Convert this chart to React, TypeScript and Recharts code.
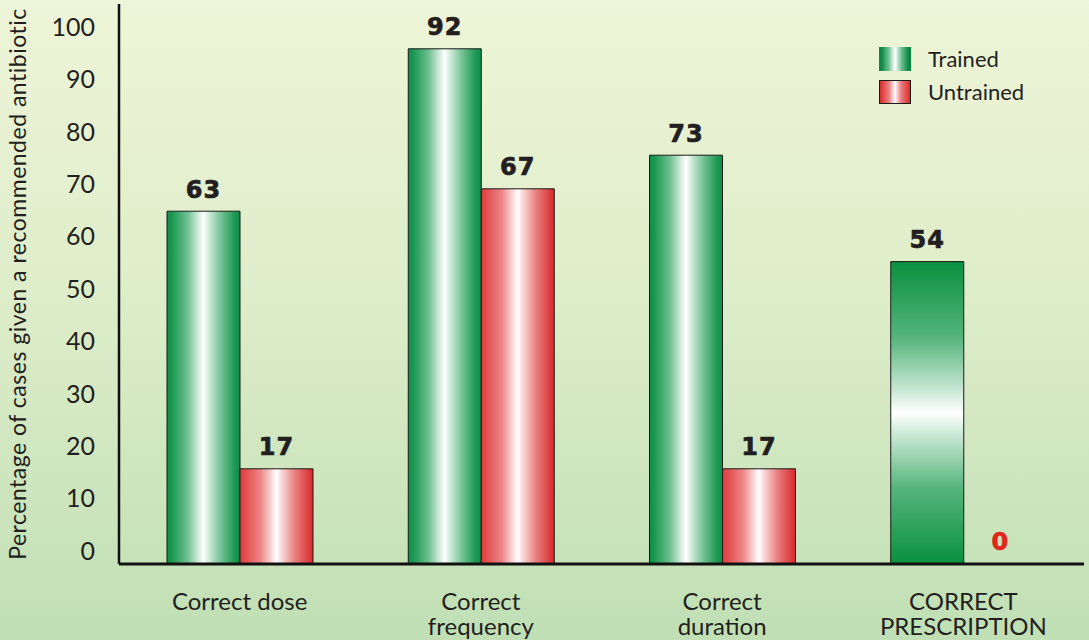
import React from 'react';
import { BarChart, Bar, XAxis, YAxis, Legend, LabelList, Cell } from 'recharts';

const categories = ['Correct dose', 'Correct\nfrequency', 'Correct\nduration', 'CORRECT\nPRESCRIPTION'];
const trainedValues = [63, 92, 73, 54];
const untrainedValues = [17, 67, 17, 0];
const yTickLabels = [0, 10, 20, 30, 40, 50, 60, 70, 80, 90, 100];
const seriesNames = ['Trained', 'Untrained'];
const yTitle = 'Percentage of cases given a recommended antibiotic';

const data = categories.map((name, i) => ({
  name,
  trained: trainedValues[i],
  untrained: untrainedValues[i],
}));

const FONT = 'Lato, "Open Sans", sans-serif';
const TEXT = '#231f20';

const CategoryTick = (props: any) => {
  const { x, y, payload } = props;
  const lines = String(payload.value).split('\n');
  return (
    <g>
      {lines.map((l: string, i: number) => (
        <text
          key={i}
          x={x}
          y={y + 46 + i * 25}
          textAnchor="middle"
          fontFamily={FONT}
          fontSize={24}
          fill={TEXT}
        >
          {l}
        </text>
      ))}
    </g>
  );
};

const ValueLabel = (props: any) => {
  const { x, y, width, value } = props;
  const color = Number(value) === 0 ? '#e2261c' : TEXT;
  return (
    <text
      x={x + width / 2}
      y={y - 13.5}
      textAnchor="middle"
      fontFamily='"DejaVu Sans", sans-serif'
      fontWeight="bold"
      fontSize={24}
      letterSpacing={1}
      fill={color}
      stroke={color}
      strokeWidth={0.7}
    >
      {value}
    </text>
  );
};

const YTitle = (props: any) => {
  const vb = props.viewBox || { x: 0, y: 4, width: 119, height: 560 };
  const cx = 26;
  const cy = vb.y + vb.height / 2;
  return (
    <text
      x={cx}
      y={cy}
      transform={`rotate(-90 ${cx} ${cy})`}
      textAnchor="middle"
      fontFamily={FONT}
      fontSize={23}
      letterSpacing={0.5}
      fill={TEXT}
    >
      {yTitle}
    </text>
  );
};

const greenH = 'linear-gradient(to right, #0a8a44 0%, #0a8a44 8%, #6fbf90 30%, #d5eee0 44%, #ffffff 50%, #d5eee0 56%, #6fbf90 70%, #0a8a44 92%, #0a8a44 100%)';
const redH = 'linear-gradient(to right, #dd2a2a 0%, #ea8080 30%, #f8d6d6 44%, #ffffff 50%, #f8d6d6 56%, #ea8080 70%, #dd2a2a 100%)';

const renderLegend = () => (
  <div style={{ fontFamily: FONT, fontSize: 22, color: TEXT, lineHeight: '24px' }}>
    {seriesNames.map((n, i) => (
      <div key={n} style={{ display: 'flex', alignItems: 'center', height: 24, marginBottom: 9 }}>
        <span
          style={{
            display: 'inline-block',
            width: i === 0 ? 32 : 30,
            height: i === 0 ? 24 : 22,
            background: i === 0 ? greenH : redH,
            border: i === 0 ? 'none' : '1px solid #1a1a1a',
          }}
        />
        <span style={{ marginLeft: 17 }}>{n}</span>
      </div>
    ))}
  </div>
);

export default function App() {
  return (
    <div
      style={{
        position: 'absolute',
        left: 0,
        top: 0,
        width: 1089,
        height: 640,
        background: 'linear-gradient(to bottom, #eff5d8 0%, #dcecc8 50%, #c0dfb5 100%)',
      }}
    >
      <BarChart
        width={1089}
        height={640}
        data={data}
        margin={{ top: 4, right: 5, bottom: 0, left: 0 }}
        barGap={0}
        barSize={73}
      >
        <defs>
          <linearGradient id="gH" x1="0" y1="0" x2="1" y2="0">
            <stop offset="0%" stopColor="#0c8d45" />
            <stop offset="8%" stopColor="#1f9a55" />
            <stop offset="28%" stopColor="#6fbf90" />
            <stop offset="43%" stopColor="#d2ecdc" />
            <stop offset="50%" stopColor="#ffffff" />
            <stop offset="57%" stopColor="#d2ecdc" />
            <stop offset="72%" stopColor="#7cc69b" />
            <stop offset="92%" stopColor="#1f9a55" />
            <stop offset="100%" stopColor="#0c8d45" />
          </linearGradient>
          <linearGradient id="rH" x1="0" y1="0" x2="1" y2="0">
            <stop offset="0%" stopColor="#e03a3a" />
            <stop offset="28%" stopColor="#ec8686" />
            <stop offset="43%" stopColor="#f9d8d8" />
            <stop offset="50%" stopColor="#ffffff" />
            <stop offset="57%" stopColor="#f9d8d8" />
            <stop offset="75%" stopColor="#e98080" />
            <stop offset="100%" stopColor="#d8282a" />
          </linearGradient>
          <linearGradient id="gV" x1="0" y1="0" x2="0" y2="1">
            <stop offset="0%" stopColor="#0a9040" />
            <stop offset="25%" stopColor="#55b47b" />
            <stop offset="42%" stopColor="#c6e6d2" />
            <stop offset="50%" stopColor="#ffffff" />
            <stop offset="58%" stopColor="#c6e6d2" />
            <stop offset="75%" stopColor="#55b47b" />
            <stop offset="100%" stopColor="#0a9040" />
          </linearGradient>
        </defs>
        <XAxis
          dataKey="name"
          height={76}
          tick={<CategoryTick />}
          tickLine={false}
          tickSize={0}
          tickMargin={0}
          interval={0}
          axisLine={{ stroke: '#111', strokeWidth: 3 }}
        />
        <YAxis yAxisId="v" hide domain={[0, 100]} type="number" allowDataOverflow />
        <YAxis
          yAxisId="t"
          width={119}
          type="number"
          domain={[-2.48, 104.39]}
          ticks={yTickLabels}
          allowDataOverflow
          tickLine={false}
          tickSize={0}
          tickMargin={24}
          axisLine={{ stroke: '#111', strokeWidth: 2.5 }}
          tick={{ fontFamily: FONT, fontSize: 25, fill: TEXT }}
          label={{ content: <YTitle /> }}
        />
        <Legend
          layout="vertical"
          align="center"
          verticalAlign="middle"
          content={renderLegend}
          wrapperStyle={{ left: 879, top: 47, width: 200, height: 70 }}
        />
        <Bar yAxisId="v" dataKey="trained" name="Trained" stroke="#1a1a1a" strokeWidth={1} isAnimationActive={false}>
          {data.map((d, i) => (
            <Cell key={i} fill={i === 3 ? 'url(#gV)' : 'url(#gH)'} />
          ))}
          <LabelList dataKey="trained" content={<ValueLabel />} />
        </Bar>
        <Bar
          yAxisId="v"
          dataKey="untrained"
          name="Untrained"
          fill="url(#rH)"
          stroke="#1a1a1a"
          strokeWidth={1}
          minPointSize={(v: number) => (v === 0 ? 0.01 : 0)}
          isAnimationActive={false}
        >
          <LabelList dataKey="untrained" content={<ValueLabel />} />
        </Bar>
      </BarChart>
    </div>
  );
}
